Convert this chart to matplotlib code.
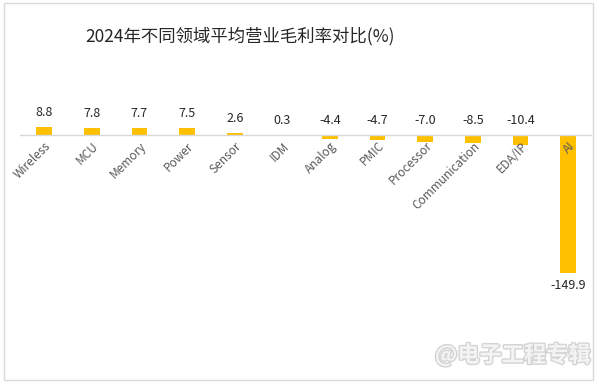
import matplotlib.pyplot as plt
import matplotlib.patheffects as pe
from matplotlib.patches import Rectangle

plt.rcParams['font.family'] = ['Noto Sans CJK SC', 'DejaVu Sans']

categories = ["Wireless", "MCU", "Memory", "Power", "Sensor", "IDM", "Analog",
              "PMIC", "Processor", "Communication", "EDA/IP", "AI"]
margins = [8.8, 7.8, 7.7, 7.5, 2.6, 0.3, -4.4, -4.7, -7.0, -8.5, -10.4, -149.9]
title = "2024年不同领域平均营业毛利率对比(%)"
watermark = "@电子工程专辑"


def plot_margins():
    fig = plt.figure(figsize=(5.98, 3.85), dpi=100)
    fig.patches.append(Rectangle((0.006, 0.012), 0.986, 0.98, transform=fig.transFigure,
                                 fill=False, edgecolor="#d9d9d9", linewidth=1))
    ax = fig.add_axes([0.034, 0.17, 0.956, 0.675])
    # move the category axis to zero first, it resets the tick label styling
    ax.spines["bottom"].set_position(("data", 0))
    x = range(len(categories))
    ax.bar(x, margins, width=0.33, color="#FFC000")
    ax.axhline(0, color="#d9d9d9", linewidth=1)
    ax.set_xlim(-0.5, len(categories) - 0.5)
    ax.set_ylim(-200, 82)

    for i, v in enumerate(margins):
        if v < -100:
            ax.text(i, v - 6, f"{v:.1f}", ha="center", va="top", fontsize=9, color="#262626")
        else:
            ax.text(i, max(v, 0) + 9, f"{v:.1f}", ha="center", va="bottom", fontsize=9,
                    color="#262626")

    ax.set_xticks(list(x))
    ax.set_xticklabels(categories, rotation=45, ha="right", va="top",
                       rotation_mode="anchor", fontsize=8.5, color="#595959")
    for s in ax.spines.values():
        s.set_visible(False)
    ax.tick_params(axis="x", length=0, pad=3)
    ax.set_yticks([])

    fig.text(0.142, 0.905, title, fontsize=12.5, color="#262626", va="center")
    fig.text(0.988, 0.077, watermark, fontsize=16, color="#f4f4f4", ha="right", va="center",
             fontweight="bold",
             path_effects=[pe.withStroke(linewidth=2, foreground="#d4d4d4")])
    fig.savefig("out.png", dpi=100)


if __name__ == "__main__":
    plot_margins()
